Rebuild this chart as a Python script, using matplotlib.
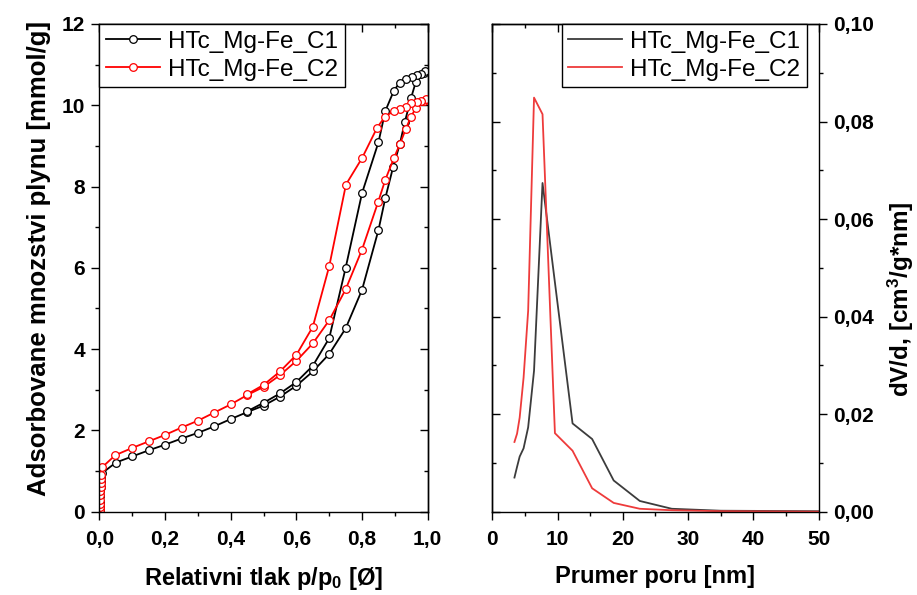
import matplotlib
matplotlib.use('Agg')
import matplotlib.pyplot as plt
from matplotlib.ticker import MultipleLocator, FuncFormatter, NullFormatter

# --- isotherm data (relative pressure vs adsorbed amount) ---
c1_ads_x = [0.0005, 0.001, 0.0015, 0.002, 0.003, 0.004, 0.005, 0.006, 0.008,
            0.05, 0.10, 0.15, 0.20, 0.25, 0.30, 0.35, 0.40, 0.45, 0.50, 0.55,
            0.60, 0.65, 0.70, 0.75, 0.80, 0.85, 0.871, 0.895, 0.915, 0.93,
            0.949, 0.964, 0.99]
c1_ads_y = [0.05, 0.15, 0.25, 0.38, 0.5, 0.62, 0.74, 0.84, 0.95,
            1.21, 1.36, 1.51, 1.65, 1.80, 1.94, 2.10, 2.28, 2.45, 2.61, 2.83,
            3.10, 3.45, 3.88, 4.51, 5.46, 6.93, 7.72, 8.49, 9.04, 9.58,
            10.17, 10.58, 10.80]
c1_des_x = [0.992, 0.98, 0.966, 0.951, 0.933, 0.915, 0.897, 0.871, 0.85,
            0.80, 0.75, 0.70, 0.65, 0.60, 0.55, 0.50, 0.45]
c1_des_y = [10.85, 10.77, 10.74, 10.70, 10.64, 10.56, 10.36, 9.86, 9.09,
            7.84, 6.00, 4.27, 3.59, 3.19, 2.91, 2.68, 2.47]

c2_ads_x = [0.0005, 0.001, 0.0015, 0.002, 0.0025, 0.003, 0.0035, 0.004, 0.005,
            0.006, 0.009, 0.048, 0.10, 0.15, 0.20, 0.25, 0.30, 0.35, 0.40, 0.45,
            0.50, 0.55, 0.60, 0.65, 0.70, 0.75, 0.80, 0.849, 0.871, 0.897,
            0.915, 0.933, 0.949, 0.964, 0.99]
c2_ads_y = [0.05, 0.12, 0.2, 0.3, 0.4, 0.5, 0.6, 0.7, 0.8,
            0.9, 1.10, 1.39, 1.57, 1.73, 1.89, 2.07, 2.24, 2.44, 2.64, 2.87,
            3.07, 3.36, 3.71, 4.14, 4.71, 5.47, 6.45, 7.62, 8.17, 8.70,
            9.04, 9.41, 9.72, 9.93, 10.10]
c2_des_x = [0.995, 0.98, 0.966, 0.949, 0.933, 0.915, 0.897, 0.87, 0.846,
            0.80, 0.751, 0.70, 0.65, 0.60, 0.55, 0.50, 0.45]
c2_des_y = [10.15, 10.11, 10.09, 10.05, 9.95, 9.91, 9.86, 9.72, 9.45,
            8.70, 8.05, 6.04, 4.55, 3.86, 3.45, 3.12, 2.89]

# --- pore size distribution ---
pore_d = [3.4, 3.8, 4.2, 4.8, 5.5, 6.4, 7.7, 9.6, 12.3, 15.3, 18.6, 22.6,
          27.5, 35, 50]
psd_c1 = [0.0070, 0.0092, 0.0113, 0.0130, 0.0173, 0.0289, 0.0674, 0.0470,
          0.0181, 0.0149, 0.0064, 0.0022, 0.0006, 0.0002, 0.0001]
psd_c2 = [0.0143, 0.0160, 0.0193, 0.0275, 0.0412, 0.0849, 0.0815, 0.0161,
          0.0125, 0.0048, 0.0018, 0.0006, 0.0003, 0.0001, 0.0000]

labels = ['HTc_Mg-Fe_C1', 'HTc_Mg-Fe_C2']

plt.rcParams['font.family'] = ['Liberation Sans', 'DejaVu Sans']
plt.rcParams['font.weight'] = 'bold'
plt.rcParams['mathtext.default'] = 'regular'

fig = plt.figure(figsize=(9.17, 5.95), dpi=100)
ax1 = fig.add_axes([0.1085, 0.14, 0.3579, 0.8197])
ax2 = fig.add_axes([0.5368, 0.14, 0.3560, 0.8197])


def fmt(nd):
    if nd == 0:
        return FuncFormatter(lambda v, p: '%d' % round(v))
    return FuncFormatter(lambda v, p: (('%.' + str(nd) + 'f') % v).replace('.', ','))


leg_kw = dict(borderaxespad=0, prop={'size': 17.5, 'weight': 'normal'},
              handlelength=2.2, handletextpad=0.35, labelspacing=0.25, borderpad=0.27,
              fancybox=False, edgecolor='black', framealpha=1)

mk = dict(marker='o', markersize=5.5, markerfacecolor='white', markeredgewidth=0.9, lw=1.3)
l1, = ax1.plot(c1_ads_x, c1_ads_y, color='black', **mk)
ax1.plot(c1_des_x, c1_des_y, color='black', **mk)
l2, = ax1.plot(c2_ads_x, c2_ads_y, color='#ff0000', **mk)
ax1.plot(c2_des_x, c2_des_y, color='#ff0000', **mk)

ax1.set_xlim(0, 1.0)
ax1.set_ylim(0, 12)
ax1.xaxis.set_major_locator(MultipleLocator(0.2))
ax1.xaxis.set_minor_locator(MultipleLocator(0.1))
ax1.yaxis.set_major_locator(MultipleLocator(2))
ax1.yaxis.set_minor_locator(MultipleLocator(1))
ax1.xaxis.set_major_formatter(fmt(1))
ax1.yaxis.set_major_formatter(fmt(0))
ax1.tick_params(which='both', direction='out', width=1, labelsize=15)
ax1.tick_params(axis='x', which='major', length=5.5, pad=8)
ax1.tick_params(axis='y', which='major', length=5.5, pad=5)
ax1.tick_params(which='minor', length=2.8)

leg1 = ax1.legend([l1, l2], labels, loc='upper left', bbox_to_anchor=(0.0, 1.0), **leg_kw)
leg1.get_frame().set_linewidth(1.0)
ax1.set_xlabel('Relativni tlak p/p$_0$ [Ø]', fontsize=17, fontweight='bold')
ax1.xaxis.set_label_coords(0.5, -0.11)
ax1.set_ylabel('Adsorbovane mnozstvi plynu [mmol/g]', fontsize=18.5, fontweight='bold')
ax1.yaxis.set_label_coords(-0.148, 0.52)

r1, = ax2.plot(pore_d, psd_c1, color='#3c3c3c', lw=1.3)
r2, = ax2.plot(pore_d, psd_c2, color='#ee3b3b', lw=1.3)
ax2.set_xlim(0, 50)
ax2.set_ylim(0, 0.10)
ax2.xaxis.set_major_locator(MultipleLocator(10))
ax2.xaxis.set_minor_locator(MultipleLocator(5))
ax2.yaxis.set_major_locator(MultipleLocator(0.02))
ax2.yaxis.set_minor_locator(MultipleLocator(0.01))
ax2.xaxis.set_major_formatter(fmt(0))
ax2.yaxis.set_major_formatter(fmt(2))
ax2.yaxis.tick_right()
ax2.yaxis.set_label_position('right')
ax2.tick_params(which='both', direction='out', width=1, labelsize=15)
ax2.tick_params(axis='x', which='major', length=5.5, pad=8)
ax2.tick_params(axis='y', which='major', length=5.5, pad=5)
ax2.tick_params(which='minor', length=2.8)
leg2 = ax2.legend([r1, r2], labels, loc='upper right', bbox_to_anchor=(0.963, 1.0), **leg_kw)
leg2.get_frame().set_linewidth(1.0)
ax2.set_xlabel('Prumer poru [nm]', fontsize=17, fontweight='bold')
ax2.xaxis.set_label_coords(0.5, -0.11)
ax2.set_ylabel('dV/d, [cm$^3$/g*nm]', fontsize=17.5, fontweight='bold', rotation=90)
ax2.yaxis.set_label_coords(1.205, 0.436)

# inward ticks on the unlabeled spines
sec = [(ax1.secondary_xaxis('top'), 'x', 0.2, 0.1),
       (ax1.secondary_yaxis('right'), 'y', 2, 1),
       (ax2.secondary_xaxis('top'), 'x', 10, 5),
       (ax2.secondary_yaxis('left'), 'y', 0.02, 0.01)]
for s, which, mj, mn in sec:
    axis = s.xaxis if which == 'x' else s.yaxis
    axis.set_major_locator(MultipleLocator(mj))
    axis.set_minor_locator(MultipleLocator(mn))
    axis.set_major_formatter(NullFormatter())
    s.tick_params(which='both', direction='in', width=1)
    s.tick_params(which='major', length=5.5)
    s.tick_params(which='minor', length=2.8)
    for sp in s.spines.values():
        sp.set_linewidth(1.0)

for ax in (ax1, ax2):
    for sp in ax.spines.values():
        sp.set_linewidth(1.0)

fig.savefig('out.png', dpi=100)
